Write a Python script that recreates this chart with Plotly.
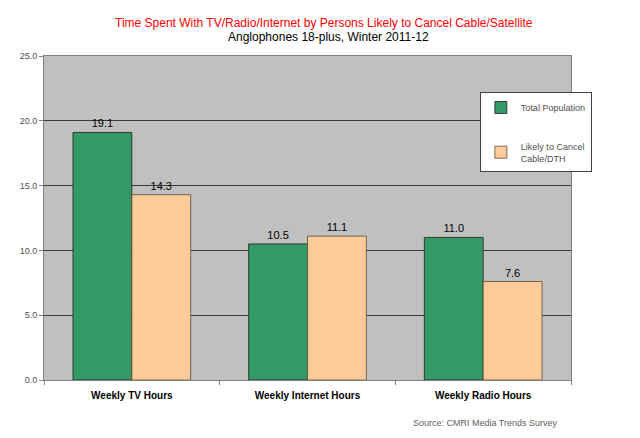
import plotly.graph_objects as go

# Chart data
categories = ["Weekly TV Hours", "Weekly Internet Hours", "Weekly Radio Hours"]
series_names = ["Total Population", "Likely to Cancel<br>Cable/DTH"]
total_population = [19.1, 10.5, 11.0]
likely_to_cancel = [14.3, 11.1, 7.6]
y_ticks = [0, 5, 10, 15, 20, 25]
y_tick_labels = ["0.0", "5.0", "10.0", "15.0", "20.0", "25.0"]

FONT = "Liberation Sans, Arial, sans-serif"

# the page body adds an 8px margin, so work in page pixels and convert
OFF = 8
plot_left, plot_right = 39, 571
plot_top, plot_bottom = 56, 380
plot_w = plot_right - plot_left
plot_h = plot_bottom - plot_top


def px_x(x):
    return (x - plot_left) / plot_w


def px_y(y):
    return (plot_bottom - y) / plot_h


fig = go.Figure()
fig.add_trace(go.Bar(
    x=categories, y=total_population, name=series_names[0],
    legendgroup="a",
    marker=dict(color="#339966", line=dict(color="#1f1f1f", width=0.8)),
    text=[f"{v:.1f}" for v in total_population], textposition="outside",
    textfont=dict(size=11, color="black", family=FONT),
    cliponaxis=False,
))
fig.add_trace(go.Bar(
    x=categories, y=likely_to_cancel, name=series_names[1],
    legendgroup="b",
    marker=dict(color="#FFCC99", line=dict(color="#5a4a3a", width=0.8)),
    text=[f"{v:.1f}" for v in likely_to_cancel], textposition="outside",
    textfont=dict(size=11, color="black", family=FONT),
    cliponaxis=False,
))

fig.update_layout(
    width=640, height=438,
    margin=dict(l=plot_left - OFF, r=640 - (plot_right - OFF),
                t=plot_top - OFF, b=438 - (plot_bottom - OFF)),
    paper_bgcolor="white",
    plot_bgcolor="#C0C0C0",
    font=dict(family=FONT, size=9, color="#333333"),
    barmode="group",
    bargap=0.33, bargroupgap=0,
    showlegend=True,
    legend=dict(
        x=px_x(479), y=px_y(92), xanchor="left", yanchor="top",
        bgcolor="white", bordercolor="#404040", borderwidth=1,
        font=dict(size=9, color="#505050", family=FONT),
        tracegroupgap=22, traceorder="grouped",
        itemwidth=30,
    ),
    annotations=[
        dict(text="Time Spent With TV/Radio/Internet by Persons Likely to Cancel Cable/Satellite",
             xref="paper", yref="paper", x=px_x(322), y=px_y(22.5),
             xanchor="center", yanchor="middle",
             showarrow=False, font=dict(size=12, color="#FF0000", family=FONT)),
        dict(text="Anglophones 18-plus, Winter 2011-12",
             xref="paper", yref="paper", x=px_x(326), y=px_y(37),
             xanchor="center", yanchor="middle",
             showarrow=False, font=dict(size=12, color="black", family=FONT)),
        dict(text="Source: CMRI Media Trends Survey",
             xref="paper", yref="paper", x=px_x(560), y=px_y(423),
             xanchor="right", yanchor="middle",
             showarrow=False, font=dict(size=9, color="#606060", family=FONT)),
    ],
)

fig.update_xaxes(
    showline=True, linecolor="#808080", linewidth=1, mirror=True,
    ticks="outside", tickson="boundaries", ticklen=4, tickcolor="#808080",
    tickfont=dict(size=10, color="black", family=FONT),
    tickprefix="<b>", ticksuffix="</b>",
    ticklabelstandoff=6,
    showgrid=False,
)
fig.update_yaxes(
    range=[0, 25], tickvals=y_ticks, ticktext=y_tick_labels,
    showline=True, linecolor="#808080", linewidth=1, mirror=True,
    ticks="outside", ticklen=4, tickcolor="#808080",
    showgrid=True, gridcolor="#3a3a3a", gridwidth=1,
    zeroline=False,
    tickfont=dict(size=9, color="#505050"),
)

fig.write_html("out.html")
